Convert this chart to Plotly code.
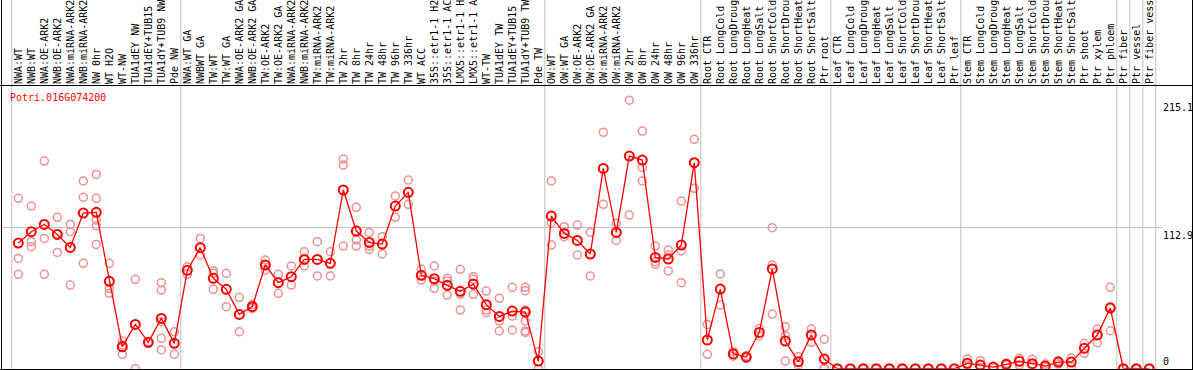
import plotly.graph_objects as go

W, H = 1194, 370

categories = [
    "NWA:WT", "NWB:WT", "NWA:OE-ARK2", "NWB:OE-ARK2", "NWA:miRNA-ARK2", "NWB:miRNA-ARK2",
    "NW 0hr", "WT H2O", "WT-NW", "TUA1dEY NW", "TUA1dEY+TUB15", "TUA1dY+TUB9 NW", "Pde NW",
    "NWA:WT GA", "NWBWT GA", "TW:WT", "TW:WT GA", "NWA:OE-ARK2 GA", "NWB:OE-ARK2 GA",
    "TW:OE-ARK2", "TW:OE-ARK2 GA", "NWA:miRNA-ARK2", "NWB:miRNA-ARK2", "TW:miRNA-ARK2",
    "TW:miRNA-ARK2", "TW 2hr", "TW 8hr", "TW 24hr", "TW 48hr", "TW 96hr", "TW 336hr",
    "WT ACC", "35S::etr1-1 H2", "35S::etr1-1 AC", "LMX5::etr1-1 H", "LMX5::etr1-1 A",
    "WT-TW", "TUA1dEY TW", "TUA1dEY+TUB15", "TUA1dY+TUB9 TW", "Pde TW",
    "OW:WT", "OW:WT GA", "OW:OE-ARK2", "OW:OE-ARK2 GA", "OW:miRNA-ARK2", "OW:miRNA-ARK2",
    "OW 2hr", "OW 8hr", "OW 24hr", "OW 48hr", "OW 96hr", "OW 336hr",
    "Root CTR", "Root LongCold", "Root LongDroug", "Root LongHeat", "Root LongSalt",
    "Root ShortCold", "Root ShortDrou", "Root ShortHeat", "Root ShortSalt", "Ptr root",
    "Leaf CTR", "Leaf LongCold", "Leaf LongDroug", "Leaf LongHeat", "Leaf LongSalt",
    "Leaf ShortCold", "Leaf ShortDrou", "Leaf ShortHeat", "Leaf ShortSalt", "Ptr leaf",
    "Stem CTR", "Stem LongCold", "Stem LongDroug", "Stem LongHeat", "Stem LongSalt",
    "Stem ShortCold", "Stem ShortDrou", "Stem ShortHeat", "Stem ShortSalt", "Ptr shoot",
    "Ptr xylem", "Ptr phloem", "Ptr fiber", "Ptr vessel", "Ptr fiber vessel",
]

means = [
    100.7, 109.8, 115.6, 107.6, 97.2, 124.7, 125.3, 70.0, 17.6, 35.5, 21.1, 40.3, 20.3,
    78.8, 97.0, 72.4, 63.6, 43.5, 49.7, 83.1, 68.9, 73.7, 87.6, 87.6, 84.4, 143.2, 110.3,
    101.2, 99.9, 130.3, 141.3, 74.8, 72.1, 66.8, 62.0, 67.8, 51.3, 41.9, 46.2, 45.4, 6.1,
    122.3, 108.4, 102.8, 91.9, 160.5, 109.2, 170.4, 167.2, 89.2, 87.9, 99.1, 165.1,
    23.0, 63.8, 11.8, 9.3, 29.1, 79.9, 22.2, 5.6, 27.0, 7.7,
    0, 0, 0, 0, 0, 0, 0, 0, 0, 0,
    4.3, 2.9, 1.3, 3.5, 5.9, 4.0, 2.1, 5.3, 5.3, 16.3, 27.0,
    48.6, 0, 0, 0,
]

replicates = [
    [136.5, 88.4, 75.6], [130.3, 101.8, 97.8], [166.4, 104.4, 75.6], [121.3, 93.2, 108.0],
    [115.6, 109.8, 67.0], [150.4, 137.3, 84.4], [155.7, 136.5, 119.1, 114.6, 99.6],
    [84.4, 64.4, 60.4], [22.2, 11.5, 19.0], [71.6, 0.0], [20.3, 21.6],
    [68.9, 63.0, 37.7, 24.3, 15.0], [29.6, 11.5],
    [81.7, 75.6], [104.4, 91.1], [78.5, 76.4, 63.6], [76.4, 49.7], [57.2, 29.6],
    [51.5, 48.3, 49.7], [87.1, 83.1, 79.1], [75.6, 60.4], [82.3, 67.0], [93.7, 87.6, 82.3],
    [101.8, 74.3], [93.7, 74.3], [168.0, 163.2, 98.3], [129.3, 103.1, 98.3],
    [109.2, 98.3, 95.6], [105.8, 91.9], [138.4, 121.3], [151.2, 131.7],
    [79.6, 71.0, 74.8], [82.3, 70.2, 64.4], [72.4, 70.2, 59.0], [79.6, 59.6, 47.0],
    [73.7, 71.6, 59.6], [62.2, 47.0, 44.9], [56.4, 38.2, 30.2], [65.2, 42.2, 31.0],
    [65.2, 62.5, 47.0, 38.5, 30.2, 29.0], [13.6, 0.0],
    [150.4, 117.0, 99.1], [113.8, 105.8], [115.1, 91.1], [109.2, 74.3], [189.4, 131.7],
    [116.5, 102.8], [215.1, 123.1], [190.4, 161.3, 150.4], [98.3, 85.7, 83.6],
    [95.1, 91.1, 78.3], [134.3, 94.3, 68.9], [183.8, 144.5],
    [35.5, 11.5], [75.9, 51.0], [13.6, 10.0], [10.2, 8.3], [32.3, 26.2],
    [113.0, 83.1, 43.8], [33.7, 26.2, 6.1], [9.6, 2.9], [31.8, 21.1], [23.5, 0.0, 0.0],
    [0, 0], [0, 0], [0, 0], [0, 0], [0, 0], [0, 0], [0, 0], [0, 0], [0, 0], [0, 0],
    [7.7, 2.9], [6.4, 1.1], [0.8, 1.8], [4.3, 2.7], [8.3, 2.9], [7.5, 2.9], [3.7, 1.1],
    [6.4, 3.7], [8.5, 1.6], [20.3, 12.3], [31.8, 20.8],
    [65.2, 49.7, 30.4], [0, 0], [0, 0], [0, 0],
]

# last index of each group (a grey separator follows it)
group_ends = [-1, 12, 40, 52, 62, 72, 84, 85, 86, 87]

y_ticks = [0, 112.9, 215.1]
gene_name = "Potri.016G074200"

MONO = "DejaVu Sans Mono"

rep_x, rep_y = [], []
for i, vals in enumerate(replicates):
    for v in vals:
        rep_x.append(i)
        rep_y.append(v)

fig = go.Figure()
fig.add_trace(go.Scatter(
    x=rep_x, y=rep_y, mode="markers", cliponaxis=False,
    marker=dict(symbol="circle-open", size=8, color="rgb(236,145,145)",
                line=dict(width=1.5, color="rgb(236,145,145)")),
    hoverinfo="skip", showlegend=False,
))
fig.add_trace(go.Scatter(
    x=list(range(len(categories))), y=means, mode="lines+markers", cliponaxis=False,
    line=dict(color="#ff0000", width=1.3),
    marker=dict(symbol="circle-open", size=9, color="#ff0000",
                line=dict(width=2, color="#ff0000")),
    showlegend=False,
))

px_step = 13.0
first_center = 18.3
left_px, right_px = 1.0, 1162.0
r0 = -(first_center - left_px) / px_step
r1 = r0 + (right_px - left_px) / px_step

top_px, zero_px = 85.0, 368.7
px_per_unit = 1.248
ymax = (zero_px - top_px) / px_per_unit

fig.update_layout(
    width=W, height=H, margin=dict(l=0, r=0, t=0, b=0),
    paper_bgcolor="white", plot_bgcolor="white",
    showlegend=False,
    xaxis=dict(
        domain=[left_px / W, right_px / W], range=[r0, r1],
        side="top", tickmode="array", tickvals=list(range(len(categories))),
        ticktext=categories, tickangle=-90, ticks="", showgrid=False, zeroline=False,
        tickfont=dict(family=MONO, size=10, color="black"), automargin=False,
        showline=False,
    ),
    yaxis=dict(
        domain=[(H - zero_px) / H, (H - top_px) / H], range=[0, ymax],
        tickmode="array", tickvals=[y_ticks[1]], showticklabels=False,
        showgrid=True, gridcolor="#c0c0c0", gridwidth=1, zeroline=False,
        automargin=False, showline=False,
    ),
)

shapes = []
for k in group_ends:
    shapes.append(dict(type="line", xref="x", yref="paper", x0=k + 0.5, x1=k + 0.5,
                       y0=0, y1=1, line=dict(color="#c0c0c0", width=1), layer="below"))
# frame
frame = dict(color="black", width=1)
shapes += [
    dict(type="line", xref="paper", yref="paper", x0=1.5 / W, x1=1.5 / W, y0=0, y1=1, line=frame),
    dict(type="line", xref="paper", yref="paper", x0=1192.5 / W, x1=1192.5 / W, y0=0, y1=1, line=frame),
    dict(type="line", xref="paper", yref="paper", x0=0, x1=1192.5 / W,
         y0=1 - 85.5 / H, y1=1 - 85.5 / H, line=frame),
    dict(type="line", xref="paper", yref="paper", x0=0, x1=1192.5 / W,
         y0=1 - 369.5 / H, y1=1 - 369.5 / H, line=frame),
]
fig.update_layout(shapes=shapes)

annotations = [dict(
    text=gene_name, xref="paper", yref="paper", x=8 / W, y=1 - 97 / H,
    xanchor="left", yanchor="middle", showarrow=False,
    font=dict(family=MONO, size=10, color="#ff0000"),
)]
for v in y_ticks:
    annotations.append(dict(
        text=str(v), xref="paper", yref="y", x=1161 / W, y=v,
        xanchor="left", yanchor="bottom" if v == 0 else "top", showarrow=False,
        font=dict(family=MONO, size=10, color="black"),
    ))
fig.update_layout(annotations=annotations)

fig.write_html(
    "out.html",
    config={"displayModeBar": False},
    post_script="document.body.style.margin='0';document.body.style.overflow='hidden';",
)
